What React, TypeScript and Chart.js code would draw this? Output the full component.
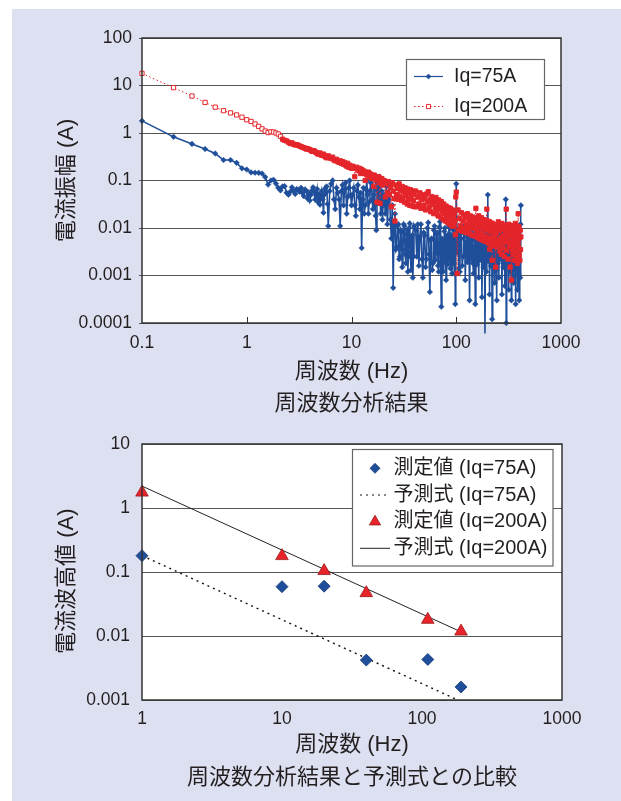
import React, { useEffect, useRef } from 'react';
import { Chart, registerables } from 'chart.js';

Chart.register(...registerables);

const FONT = '"Liberation Sans", "Noto Sans CJK JP", sans-serif';
const TEXT = '#231f20';
const BLUE = '#1f4e9a';
const RED = '#e4262b';
const GRID = '#555555';
const FRAME = '#333333';
const PAGE_BG = '#dde0f1';

// ---------- top chart: frequency analysis (Hz) ----------
const topFreq = [
  // 0.1 - 3.0
  0.1, 0.2, 0.3, 0.4, 0.5, 0.6, 0.7, 0.8, 0.9, 1, 1.1, 1.2, 1.3, 1.4, 1.5, 1.6, 1.7, 1.8, 1.9, 2,
  2.1, 2.2, 2.3, 2.4, 2.5, 2.6, 2.7, 2.8, 2.9, 3,
  // 3.1 - 6.0
  3.1, 3.2, 3.3, 3.4, 3.5, 3.6, 3.7, 3.8, 3.9, 4, 4.1, 4.2, 4.3, 4.4, 4.5, 4.6, 4.7, 4.8, 4.9, 5,
  5.1, 5.2, 5.3, 5.4, 5.5, 5.6, 5.7, 5.8, 5.9, 6,
  // 6.2 - 10
  6.2, 6.4, 6.6, 6.8, 7, 7.2, 7.4, 7.6, 7.8, 8, 8.2, 8.4, 8.6, 8.8, 9, 9.2, 9.4, 9.6, 9.8, 10,
  // 10.25 - 20
  10.25, 10.5, 10.75, 11, 11.25, 11.5, 11.75, 12, 12.25, 12.5, 12.75, 13, 13.25, 13.5, 13.75, 14, 14.25, 14.5, 14.75, 15,
  15.25, 15.5, 15.75, 16, 16.25, 16.5, 16.75, 17, 17.25, 17.5, 17.75, 18, 18.25, 18.5, 18.75, 19, 19.25, 19.5, 19.75, 20,
  // 20.5 - 40
  20.5, 21, 21.5, 22, 22.5, 23, 23.5, 24, 24.5, 25, 25.5, 26, 26.5, 27, 27.5, 28, 28.5, 29, 29.5, 30,
  30.5, 31, 31.5, 32, 32.5, 33, 33.5, 34, 34.5, 35, 35.5, 36, 36.5, 37, 37.5, 38, 38.5, 39, 39.5, 40,
  // 41 - 100
  41, 42, 43, 44, 45, 46, 47, 48, 49, 50, 51, 52, 53, 54, 55, 56, 57, 58, 59, 60,
  61, 62, 63, 64, 65, 66, 67, 68, 69, 70, 71, 72, 73, 74, 75, 76, 77, 78, 79, 80,
  81, 82, 83, 84, 85, 86, 87, 88, 89, 90, 91, 92, 93, 94, 95, 96, 97, 98, 99, 100,
  // 102 - 250
  102, 104, 106, 108, 110, 112, 114, 116, 118, 120, 122, 124, 126, 128, 130, 132, 134, 136, 138, 140,
  142, 144, 146, 148, 150, 152, 154, 156, 158, 160, 162, 164, 166, 168, 170, 172, 174, 176, 178, 180,
  182, 184, 186, 188, 190, 192, 194, 196, 198, 200, 202, 204, 206, 208, 210, 212, 214, 216, 218, 220,
  222, 224, 226, 228, 230, 232, 234, 236, 238, 240, 242, 244, 246, 248, 250,
  // 252 - 414
  252, 255, 258, 261, 264, 267, 270, 273, 276, 279, 282, 285, 288, 291, 294, 297, 300, 303, 306, 309,
  312, 315, 318, 321, 324, 327, 330, 333, 336, 339, 342, 345, 348, 351, 354, 357, 360, 363, 366, 369,
  372, 375, 378, 381, 384, 387, 390, 393, 396, 399, 402, 405, 408, 411, 414,
];

// current amplitude (A), Iq = 75 A
const topAmp75 = [
  1.8, 0.83, 0.59, 0.46, 0.37, 0.27, 0.27, 0.235, 0.18, 0.17, 0.148, 0.146, 0.145, 0.14, 0.118, 0.082, 0.1, 0.104, 0.086, 0.07,
  0.062, 0.075, 0.076, 0.055, 0.05, 0.058, 0.072, 0.06, 0.052, 0.066,
  0.062, 0.058, 0.07, 0.055, 0.047, 0.065, 0.06, 0.042, 0.055, 0.038, 0.05, 0.062, 0.072, 0.058, 0.04, 0.048, 0.066, 0.035, 0.052, 0.031,
  0.045, 0.06, 0.04, 0.021, 0.05, 0.068, 0.055, 0.075, 0.032, 0.011,
  0.06, 0.085, 0.1, 0.04, 0.025, 0.07, 0.055, 0.04, 0.011, 0.06, 0.08, 0.03, 0.065, 0.09, 0.02, 0.045, 0.07, 0.1, 0.05, 0.03,
  0.05, 0.07, 0.03, 0.018, 0.06, 0.08, 0.045, 0.025, 0.055, 0.0038, 0.04, 0.07, 0.02, 0.03, 0.065, 0.1, 0.05, 0.02, 0.035, 0.06,
  0.09, 0.11, 0.04, 0.025, 0.05, 0.07, 0.03, 0.018, 0.009, 0.09, 0.06, 0.035, 0.07, 0.12, 0.04, 0.02, 0.045, 0.06, 0.015, 0.03,
  0.05, 0.02, 0.075, 0.012, 0.04, 0.085, 0.015, 0.006, 0.03, 0.00055, 0.013, 0.02, 0.0035, 0.004, 0.011, 0.012, 0.0022, 0.0025, 0.009, 0.008,
  0.0015, 0.0035, 0.012, 0.011, 0.0028, 0.0018, 0.0075, 0.009, 0.0012, 0.003, 0.01, 0.0125, 0.0025, 0.0013, 0.006, 0.007, 0.0009, 0.0025, 0.011, 0.01,
  0.009, 0.0025, 0.012, 0.0016, 0.0065, 0.012, 0.0022, 0.0009, 0.008, 0.007, 0.0015, 0.0022, 0.01, 0.013, 0.0028, 0.00045, 0.0055, 0.006, 0.0013, 0.0018,
  0.009, 0.011, 0.0021, 0.003, 0.0075, 0.008, 0.0016, 0.0012, 0.0105, 0.0135, 0.0019, 0.00022, 0.006, 0.005, 0.0012, 0.0019, 0.0085, 0.01, 0.0024, 0.0008,
  0.0065, 0.007, 0.0017, 0.0025, 0.011, 0.012, 0.0021, 0.0014, 0.0072, 0.006, 0.0011, 0.0035, 0.0095, 0.009, 0.0018, 0.0011, 0.0058, 0.00025, 0.0048, 0.085,
  0.003, 0.0095, 0.0014, 0.0012, 0.0075, 0.006, 0.0016, 0.0025, 0.011, 0.009, 0.0008, 0.005, 0.0065, 0.0019, 0.009, 0.0085, 0.0003, 0.0065, 0.0045, 0.0022,
  0.012, 0.0018, 0.0011, 0.004, 0.0055, 0.00025, 0.008, 0.0072, 0.0017, 0.0055, 0.0035, 0.0009, 0.01, 0.0021, 0.0024, 0.0045, 0.0068, 0.00035, 0.007, 0.0026,
  0.0015, 0.009, 0.0042, 0.00006, 0.0035, 0.0062, 0.0012, 0.0075, 0.0033, 0.05, 0.002, 0.0085, 0.006, 0.0004, 0.0085, 0.0028, 0.0016, 0.005, 0.0078, 0.00012,
  0.0068, 0.0044, 0.0021, 0.0095, 0.0019, 0.0007, 0.004, 0.0062, 0.0013, 0.0078, 0.0024, 0.0003, 0.0055, 0.0065, 0.0018,
  0.006, 0.0009, 0.0085, 0.0035, 0.0022, 0.005, 0.0072, 0.0004, 0.0075, 0.0028, 0.0015, 0.0095, 0.0045, 0.0006, 0.004, 0.04, 0.0001, 0.0065, 0.0032, 0.0018,
  0.008, 0.0021, 0.0005, 0.0045, 0.0068, 0.0012, 0.0085, 0.0025, 0.0003, 0.0055, 0.0038, 0.0019, 0.0072, 0.0009, 0.0007, 0.0048, 0.0062, 0.0014, 0.009, 0.00025,
  0.006, 0.0042, 0.0016, 0.0078, 0.0005, 0.005, 0.0028, 0.0011, 0.0095, 0.0003, 0.0062, 0.0035, 0.0009, 0.012, 0.03,
];

// current amplitude (A), Iq = 200 A
const topAmp200 = [
  18, 9.0, 6.0, 4.4, 3.5, 2.95, 2.65, 2.4, 2.15, 1.9, 1.75, 1.55, 1.38, 1.22, 1.1, 1.02, 1.06, 1.05, 1.0, 0.95,
  0.85, 0.74, 0.7, 0.68, 0.64, 0.6, 0.62, 0.58, 0.56, 0.57,
  0.55, 0.53, 0.52, 0.5, 0.49, 0.48, 0.46, 0.47, 0.45, 0.45, 0.43, 0.41, 0.42, 0.42, 0.4, 0.39, 0.37, 0.36, 0.37, 0.38,
  0.35, 0.34, 0.35, 0.36, 0.33, 0.32, 0.31, 0.3, 0.32, 0.33,
  0.3, 0.29, 0.31, 0.27, 0.26, 0.28, 0.25, 0.24, 0.26, 0.23, 0.25, 0.22, 0.24, 0.21, 0.2, 0.23, 0.19, 0.21, 0.2, 0.18,
  0.2, 0.19, 0.12, 0.18, 0.19, 0.17, 0.16, 0.18, 0.14, 0.17, 0.15, 0.16, 0.14, 0.1, 0.15, 0.14, 0.13, 0.15, 0.12, 0.14,
  0.13, 0.11, 0.13, 0.12, 0.075, 0.13, 0.11, 0.12, 0.1, 0.035, 0.11, 0.1, 0.12, 0.09, 0.033, 0.1, 0.09, 0.11, 0.08, 0.095,
  0.1, 0.045, 0.085, 0.055, 0.095, 0.05, 0.072, 0.028, 0.09, 0.06, 0.042, 0.014, 0.08, 0.05, 0.068, 0.04, 0.085, 0.046, 0.062, 0.038,
  0.075, 0.043, 0.058, 0.035, 0.07, 0.048, 0.06, 0.032, 0.066, 0.04, 0.055, 0.03, 0.064, 0.044, 0.052, 0.029, 0.06, 0.037, 0.05, 0.028,
  0.06, 0.028, 0.045, 0.032, 0.055, 0.026, 0.04, 0.05, 0.03, 0.043, 0.024, 0.052, 0.035, 0.058, 0.027, 0.038, 0.022, 0.046, 0.031, 0.041,
  0.02, 0.036, 0.027, 0.044, 0.023, 0.033, 0.018, 0.039, 0.026, 0.03, 0.017, 0.036, 0.022, 0.028, 0.015, 0.032, 0.02, 0.025, 0.014, 0.029,
  0.018, 0.023, 0.013, 0.027, 0.017, 0.021, 0.012, 0.026, 0.016, 0.02, 0.011, 0.024, 0.015, 0.019, 0.011, 0.022, 0.014, 0.0072, 0.045, 0.057,
  0.0011, 0.024, 0.009, 0.016, 0.011, 0.021, 0.0085, 0.014, 0.019, 0.01, 0.0165, 0.008, 0.012, 0.02, 0.0095, 0.015, 0.0075, 0.018, 0.011, 0.0135,
  0.007, 0.017, 0.0098, 0.0125, 0.0068, 0.016, 0.026, 0.0088, 0.014, 0.0062, 0.0115, 0.018, 0.0078, 0.0135, 0.0058, 0.0105, 0.0165, 0.0072, 0.0125, 0.0055,
  0.0098, 0.015, 0.0068, 0.0118, 0.0052, 0.0092, 0.0145, 0.025, 0.0064, 0.011, 0.0048, 0.0088, 0.0138, 0.0036, 0.0105, 0.006, 0.0128, 0.0045, 0.0082, 0.0021,
  0.0125, 0.0058, 0.0095, 0.0042, 0.0118, 0.0068, 0.0048, 0.0108, 0.0015, 0.0078, 0.0115, 0.004, 0.0088, 0.0055, 0.0105,
  0.0135, 0.0045, 0.009, 0.0032, 0.011, 0.0058, 0.0028, 0.0125, 0.0068, 0.0038, 0.0098, 0.005, 0.0025, 0.0115, 0.0062, 0.0085, 0.025, 0.0034, 0.0105, 0.0052,
  0.0022, 0.0078, 0.012, 0.0042, 0.0065, 0.0015, 0.0095, 0.0048, 0.0008, 0.0112, 0.0036, 0.0072, 0.0028, 0.0102, 0.0055, 0.0021, 0.0088, 0.0044, 0.0125, 0.0032,
  0.0068, 0.0024, 0.0095, 0.0052, 0.0018, 0.0082, 0.02, 0.004, 0.0108, 0.0027, 0.0062, 0.0021, 0.009, 0.0035, 0.0065,
];

const topXTicks = [0.1, 1, 10, 100, 1000];
const topXLabels = ['0.1', '1', '10', '100', '1000'];
const topYTicks = [0.0001, 0.001, 0.01, 0.1, 1, 10, 100];
const topYLabels = ['0.0001', '0.001', '0.01', '0.1', '1', '10', '100'];

// ---------- bottom chart: comparison with prediction ----------
const measFreq = [1, 10, 20, 40, 110, 190];
const meas75 = [0.18, 0.059, 0.06, 0.0042, 0.0043, 0.0016];
const meas200 = [1.75, 0.178, 0.104, 0.047, 0.018, 0.0118];
const pred75Freq = [1, 180];
const pred75 = [0.18, 0.001];
const pred200Freq = [1, 190];
const pred200 = [2.2, 0.0116];

const botXTicks = [1, 10, 100, 1000];
const botXLabels = ['1', '10', '100', '1000'];
const botYTicks = [0.001, 0.01, 0.1, 1, 10];
const botYLabels = ['0.001', '0.01', '0.1', '1', '10'];

const pts = (xs: number[], ys: number[]) => {
  const n = Math.min(xs.length, ys.length);
  const out: { x: number; y: number }[] = [];
  for (let i = 0; i < n; i++) out.push({ x: xs[i], y: ys[i] });
  return out;
};

const tickLabel = (vals: number[], labels: string[]) => (v: any) => {
  const n = Number(v);
  const i = vals.findIndex((t) => Math.abs(Math.log10(t) - Math.log10(n)) < 1e-6);
  return i >= 0 ? labels[i] : '';
};

function drawMarker(ctx: CanvasRenderingContext2D, style: string, x: number, y: number, r: number, fill: string, stroke: string, lw: number) {
  ctx.save();
  ctx.setLineDash([]);
  ctx.beginPath();
  if (style === 'rectRot') {
    ctx.moveTo(x - r, y);
    ctx.lineTo(x, y - r);
    ctx.lineTo(x + r, y);
    ctx.lineTo(x, y + r);
    ctx.closePath();
  } else if (style === 'triangle') {
    ctx.moveTo(x, y - r);
    ctx.lineTo(x + r * 0.866, y + r / 2);
    ctx.lineTo(x - r * 0.866, y + r / 2);
    ctx.closePath();
  } else {
    const s = r * Math.SQRT1_2;
    ctx.rect(x - s, y - s, 2 * s, 2 * s);
  }
  ctx.fillStyle = fill;
  ctx.fill();
  if (lw > 0) {
    ctx.strokeStyle = stroke;
    ctx.lineWidth = lw;
    ctx.stroke();
  }
  ctx.restore();
}

type LegendCfg = {
  x: number; y: number; w: number; h: number;
  rows: number[]; markerR: number[];
  lineX0: number; lineX1: number; markX: number; textX: number; fontSize: number;
};

const makeLegend = (cfg: LegendCfg) => ({
  id: 'boxLegend',
  afterDraw(chart: any) {
    const ctx: CanvasRenderingContext2D = chart.ctx;
    ctx.save();
    ctx.fillStyle = '#ffffff';
    ctx.fillRect(cfg.x, cfg.y, cfg.w, cfg.h);
    ctx.strokeStyle = '#666666';
    ctx.lineWidth = 1.2;
    ctx.strokeRect(cfg.x, cfg.y, cfg.w, cfg.h);
    chart.data.datasets.forEach((ds: any, i: number) => {
      const y = cfg.rows[i];
      if (ds.showLine !== false) {
        ctx.save();
        ctx.strokeStyle = ds.borderColor;
        ctx.lineWidth = Math.min(ds.borderWidth, 1.2);
        ctx.setLineDash(ds.borderDash || []);
        ctx.beginPath();
        ctx.moveTo(cfg.lineX0, y);
        ctx.lineTo(cfg.lineX1, y);
        ctx.stroke();
        ctx.restore();
      }
      if (ds.pointRadius > 0) {
        const fill = typeof ds.pointBackgroundColor === 'function' ? '#ffffff' : ds.pointBackgroundColor;
        drawMarker(ctx, ds.pointStyle, cfg.markX, y, cfg.markerR[i], fill, ds.pointBorderColor, ds.pointBorderWidth);
      }
      ctx.fillStyle = TEXT;
      ctx.font = `${cfg.fontSize}px ${FONT}`;
      ctx.textBaseline = 'middle';
      ctx.textAlign = 'left';
      ctx.fillText(ds.label, cfg.textX, y);
    });
    ctx.restore();
  },
});

const makeFrame = (innerTicks: number[] | null) => ({
  id: 'plotFrame',
  beforeDraw(chart: any) {
    const { ctx, chartArea } = chart;
    ctx.save();
    ctx.fillStyle = '#ffffff';
    ctx.fillRect(chartArea.left, chartArea.top, chartArea.right - chartArea.left, chartArea.bottom - chartArea.top);
    ctx.restore();
  },
  afterDatasetsDraw(chart: any) {
    const { ctx, chartArea } = chart;
    ctx.save();
    ctx.strokeStyle = FRAME;
    ctx.lineWidth = 1.5;
    ctx.strokeRect(chartArea.left, chartArea.top, chartArea.right - chartArea.left, chartArea.bottom - chartArea.top);
    if (innerTicks) {
      const xs = chart.scales.x;
      ctx.lineWidth = 1;
      ctx.beginPath();
      innerTicks.forEach((t) => {
        const px = Math.round(xs.getPixelForValue(t)) + 0.5;
        ctx.moveTo(px, chartArea.bottom);
        ctx.lineTo(px, chartArea.bottom - 6);
      });
      ctx.stroke();
    }
    ctx.restore();
  },
});

// squares overlap into a solid band where the spectrum is dense
const redFill = (c: any) => (c.raw && c.raw.x > 2.15 ? RED : '#ffffff');

function topConfig(): any {
  return {
    type: 'line',
    data: {
      datasets: [
        {
          label: 'Iq=75A',
          data: pts(topFreq, topAmp75),
          borderColor: BLUE,
          borderWidth: 1.6,
          pointStyle: 'rectRot',
          pointRadius: 2.8,
          pointBackgroundColor: BLUE,
          pointBorderColor: BLUE,
          pointBorderWidth: 0.5,
          tension: 0,
          clip: false,
          order: 1,
        },
        {
          label: 'Iq=200A',
          data: pts(topFreq, topAmp200),
          borderColor: RED,
          borderWidth: 1,
          borderDash: [1.5, 2.5],
          pointStyle: 'rect',
          pointRadius: 3,
          pointBackgroundColor: redFill,
          pointBorderColor: RED,
          pointBorderWidth: 1,
          tension: 0,
          clip: false,
          order: 0,
        },
      ],
    },
    options: {
      animation: false,
      responsive: false,
      devicePixelRatio: 1,
      events: [],
      layout: { padding: { left: 0, top: 38, right: 60, bottom: 0 } },
      plugins: { legend: { display: false }, tooltip: { enabled: false } },
      scales: {
        x: {
          type: 'logarithmic',
          position: 'bottom',
          min: 0.1,
          max: 1000,
          afterBuildTicks: (s: any) => { s.ticks = topXTicks.map((v) => ({ value: v })); },
          afterFit: (s: any) => { s.height = 97; s.paddingLeft = 0; s.paddingRight = 0; },
          grid: { display: false, drawTicks: false },
          border: { display: false },
          ticks: {
            autoSkip: false, maxRotation: 0, padding: 10, color: TEXT,
            font: { family: FONT, size: 17.5 },
            callback: tickLabel(topXTicks, topXLabels),
          },
          title: {
            display: true,
            text: ['周波数 (Hz)', '周波数分析結果'],
            color: TEXT,
            font: { family: FONT, size: 22, lineHeight: '32px' },
            padding: { top: 0, bottom: 0 },
          },
        },
        y: {
          type: 'logarithmic',
          position: 'left',
          min: 0.0001,
          max: 100,
          afterBuildTicks: (s: any) => { s.ticks = topYTicks.map((v) => ({ value: v })); },
          afterFit: (s: any) => { s.width = 142; s.paddingTop = 0; s.paddingBottom = 0; },
          grid: { color: GRID, lineWidth: 1, drawTicks: true, tickLength: 3 },
          border: { display: false },
          ticks: {
            autoSkip: false, padding: 7, color: TEXT,
            font: { family: FONT, size: 17.5 },
            callback: tickLabel(topYTicks, topYLabels),
          },
          title: {
            display: true,
            text: '電流振幅 (A)',
            color: TEXT,
            font: { family: FONT, size: 22 },
            padding: { top: 53.5, bottom: 0 },
          },
        },
      },
    },
    plugins: [
      makeFrame([1, 10, 100]),
      makeLegend({
        x: 406.5, y: 59.5, w: 138, h: 60,
        rows: [76.5, 106.5], markerR: [2.6, 2.9],
        lineX0: 414, lineX1: 443, markX: 428.5, textX: 454, fontSize: 19.5,
      }),
    ],
  };
}

function bottomConfig(): any {
  return {
    type: 'line',
    data: {
      datasets: [
        {
          label: '測定値 (Iq=75A)',
          data: pts(measFreq, meas75),
          showLine: false,
          borderColor: BLUE,
          pointStyle: 'rectRot',
          pointRadius: 6,
          pointBackgroundColor: BLUE,
          pointBorderColor: '#163a75',
          pointBorderWidth: 0.8,
          clip: false,
          order: 0,
        },
        {
          label: '予測式 (Iq=75A)',
          data: pts(pred75Freq, pred75),
          borderColor: '#111111',
          borderWidth: 1.4,
          borderDash: [2, 4],
          pointRadius: 0,
          tension: 0,
          order: 1,
        },
        {
          label: '測定値 (Iq=200A)',
          data: pts(measFreq, meas200),
          showLine: false,
          borderColor: RED,
          pointStyle: 'triangle',
          pointRadius: 7.3,
          pointBackgroundColor: '#e8232a',
          pointBorderColor: '#9b1c1c',
          pointBorderWidth: 0.8,
          clip: false,
          order: 0,
        },
        {
          label: '予測式 (Iq=200A)',
          data: pts(pred200Freq, pred200),
          borderColor: '#222222',
          borderWidth: 1,
          pointRadius: 0,
          tension: 0,
          order: 1,
        },
      ],
    },
    options: {
      animation: false,
      responsive: false,
      devicePixelRatio: 1,
      events: [],
      layout: { padding: { left: 0, top: 24, right: 59, bottom: 0 } },
      plugins: { legend: { display: false }, tooltip: { enabled: false } },
      scales: {
        x: {
          type: 'logarithmic',
          position: 'bottom',
          min: 1,
          max: 1000,
          afterBuildTicks: (s: any) => { s.ticks = botXTicks.map((v) => ({ value: v })); },
          afterFit: (s: any) => { s.height = 101; s.paddingLeft = 0; s.paddingRight = 0; },
          grid: { display: false, drawTicks: false },
          border: { display: false },
          ticks: {
            autoSkip: false, maxRotation: 0, padding: 9, color: TEXT,
            font: { family: FONT, size: 17.5 },
            callback: tickLabel(botXTicks, botXLabels),
          },
          title: {
            display: true,
            text: ['周波数 (Hz)', '周波数分析結果と予測式との比較'],
            color: TEXT,
            font: { family: FONT, size: 22, lineHeight: '33px' },
            padding: { top: 0, bottom: 6.5 },
          },
        },
        y: {
          type: 'logarithmic',
          position: 'left',
          min: 0.001,
          max: 10,
          afterBuildTicks: (s: any) => { s.ticks = botYTicks.map((v) => ({ value: v })); },
          afterFit: (s: any) => { s.width = 142; s.paddingTop = 0; s.paddingBottom = 0; },
          grid: { color: GRID, lineWidth: 1, drawTicks: false },
          border: { display: false },
          ticks: {
            autoSkip: false, padding: 12, color: TEXT,
            font: { family: FONT, size: 17.5 },
            callback: tickLabel(botYTicks, botYLabels),
          },
          title: {
            display: true,
            text: '電流波高値 (A)   ',
            color: TEXT,
            font: { family: FONT, size: 22 },
            padding: { top: 53.8, bottom: 0 },
          },
        },
      },
    },
    plugins: [
      makeFrame(null),
      makeLegend({
        x: 352.5, y: 29.5, w: 200.5, h: 116.5,
        rows: [48.3, 75, 101.7, 128.3], markerR: [5, 0, 6.5, 0],
        lineX0: 360, lineX1: 390, markX: 375, textX: 393.5, fontSize: 20,
      }),
    ],
  };
}

function ChartCanvas(props: { make: () => any; left: number; top: number; width: number; height: number }) {
  const ref = useRef<HTMLCanvasElement | null>(null);
  useEffect(() => {
    if (!ref.current) return;
    const chart = new Chart(ref.current, props.make());
    return () => chart.destroy();
  }, []);
  return (
    <canvas
      ref={ref}
      width={props.width}
      height={props.height}
      style={{ position: 'absolute', left: props.left, top: props.top, width: props.width, height: props.height }}
    />
  );
}

export default function App() {
  return (
    <div style={{ position: 'absolute', left: 0, top: 0, width: 621, height: 801, background: '#ffffff', overflow: 'hidden' }}>
      <div style={{ position: 'absolute', left: 12, top: 9, right: 0, bottom: 0, background: PAGE_BG }} />
      <ChartCanvas make={topConfig} left={0} top={0} width={621} height={420} />
      <ChartCanvas make={bottomConfig} left={0} top={420} width={621} height={381} />
    </div>
  );
}
